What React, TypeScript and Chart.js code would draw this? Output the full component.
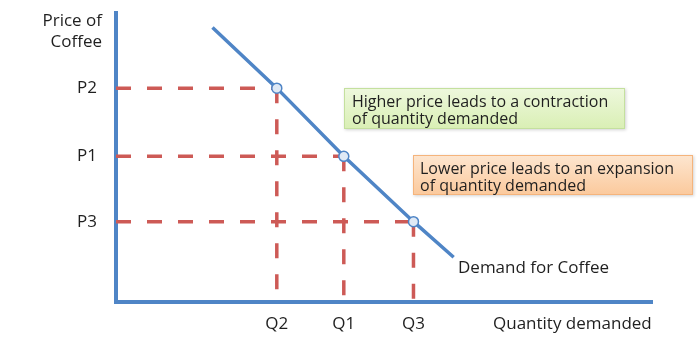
import React, { useEffect, useRef } from 'react';
import { Chart, registerables } from 'chart.js';

Chart.register(...registerables);

// Tick labels and positions (axis units 0..100)
const quantityLabels = ['Q2', 'Q1', 'Q3'];
const quantityValues = [30, 42.5, 55.5];
const priceLabels = ['P3', 'P1', 'P2'];
const priceValues = [27.8, 50.4, 74];

// The three marked points on the demand curve (Q, P)
const pointQ = [30, 42.5, 55.5];
const pointP = [74, 50.4, 27.8];

// Demand curve
const demandX = [18, 30, 42.5, 55.5, 63];
const demandY = [95, 74, 50.4, 27.8, 15.5];

const BLUE = '#4f85c6';
const RED = '#cd5a56';
const TEXT = '#1f1f1f';
const FONT = "'Open Sans', sans-serif";

function box(ctx: CanvasRenderingContext2D, x0: number, y0: number, x1: number, y1: number, top: string, bottom: string, border: string) {
  ctx.save();
  ctx.shadowColor = 'rgba(0,0,0,0.18)';
  ctx.shadowBlur = 3;
  ctx.shadowOffsetX = 1;
  ctx.shadowOffsetY = 1;
  const g = ctx.createLinearGradient(0, y0, 0, y1);
  g.addColorStop(0, top);
  g.addColorStop(1, bottom);
  ctx.fillStyle = g;
  ctx.fillRect(x0, y0, x1 - x0, y1 - y0);
  ctx.restore();
  ctx.save();
  ctx.strokeStyle = border;
  ctx.lineWidth = 1;
  ctx.strokeRect(x0 + 0.5, y0 + 0.5, x1 - x0 - 1, y1 - y0 - 1);
  ctx.restore();
}

const annotations = {
  id: 'annotations',
  afterDraw(chart: any) {
    const ctx: CanvasRenderingContext2D = chart.ctx;
    box(ctx, 344, 88, 625, 129, '#eef8dd', '#d9efb4', '#c4e09e');
    box(ctx, 413, 155, 693, 195, '#fde6d0', '#fbc99c', '#f5b47c');
    ctx.save();
    ctx.fillStyle = TEXT;
    ctx.textBaseline = 'middle';
    ctx.textAlign = 'left';
    ctx.font = `16px ${FONT}`;
    ctx.fillText('Higher price leads to a contraction', 352, 102);
    ctx.fillText('of quantity demanded', 352, 119);
    ctx.fillText('Lower price leads to an expansion', 420, 169);
    ctx.fillText('of quantity demanded', 420, 186);
    ctx.font = `17px ${FONT}`;
    ctx.fillText('Demand for Coffee', 458, 268);
    ctx.fillText('Quantity demanded', 493, 324);
    ctx.textAlign = 'right';
    ctx.fillText('Price of', 102, 21);
    ctx.fillText('Coffee', 102, 42);
    ctx.restore();
  },
};

export default function App() {
  const ref = useRef<HTMLCanvasElement | null>(null);
  useEffect(() => {
    if (!ref.current) return;
    const dashed: any[] = [];
    pointQ.forEach((q, i) => {
      const p = pointP[i];
      dashed.push({
        data: [{ x: 0, y: p }, { x: q, y: p }],
        showLine: true,
        borderColor: RED,
        borderWidth: 3.5,
        borderDash: [15, 16],
        pointRadius: 0,
        clip: false,
        order: 3,
      });
      dashed.push({
        data: [{ x: q, y: p }, { x: q, y: 0 }],
        showLine: true,
        borderColor: RED,
        borderWidth: 3.5,
        borderDash: [15, 16],
        pointRadius: 0,
        clip: false,
        order: 3,
      });
    });
    const chart = new Chart(ref.current, {
      type: 'scatter',
      data: {
        datasets: [
          ...dashed,
          {
            data: demandX.map((x, i) => ({ x, y: demandY[i] })),
            showLine: true,
            borderColor: BLUE,
            borderWidth: 3.5,
            pointRadius: 0,
            clip: false,
            order: 2,
          },
          {
            data: pointQ.map((x, i) => ({ x, y: pointP[i] })),
            showLine: false,
            pointRadius: 5,
            pointBackgroundColor: '#dfe9f5',
            pointBorderColor: BLUE,
            pointBorderWidth: 1.5,
            clip: false,
            order: 1,
          },
        ],
      },
      options: {
        responsive: false,
        animation: false,
        layout: { padding: { top: 13, right: 46, left: 0, bottom: 0 } },
        plugins: { legend: { display: false }, tooltip: { enabled: false } },
        scales: {
          x: {
            type: 'linear',
            min: 0,
            max: 100,
            grid: { display: false, drawTicks: false },
            border: { color: BLUE, width: 4 },
            afterBuildTicks: (s: any) => {
              s.ticks = quantityValues.map((v) => ({ value: v }));
            },
            afterFit: (s: any) => {
              s.height = 49;
              s.paddingLeft = 0;
              s.paddingRight = 0;
            },
            ticks: {
              autoSkip: false,
              maxRotation: 0,
              padding: 12,
              color: TEXT,
              font: { family: FONT, size: 17 },
              callback: (_v: any, i: number) => quantityLabels[i],
            },
          },
          y: {
            type: 'linear',
            min: 0,
            max: 100,
            grid: { display: false, drawTicks: false },
            border: { color: BLUE, width: 4 },
            afterBuildTicks: (s: any) => {
              s.ticks = priceValues.map((v) => ({ value: v }));
            },
            afterFit: (s: any) => {
              s.width = 116;
              s.paddingTop = 0;
              s.paddingBottom = 0;
            },
            ticks: {
              autoSkip: false,
              padding: 19,
              color: TEXT,
              font: { family: FONT, size: 17 },
              callback: (_v: any, i: number) => priceLabels[i],
            },
          },
        },
      },
      plugins: [annotations],
    });
    return () => chart.destroy();
  }, []);
  return (
    <div style={{ position: 'fixed', left: 0, top: 0, width: 698, height: 351, background: '#fff' }}>
      <canvas ref={ref} width={698} height={351} />
    </div>
  );
}
